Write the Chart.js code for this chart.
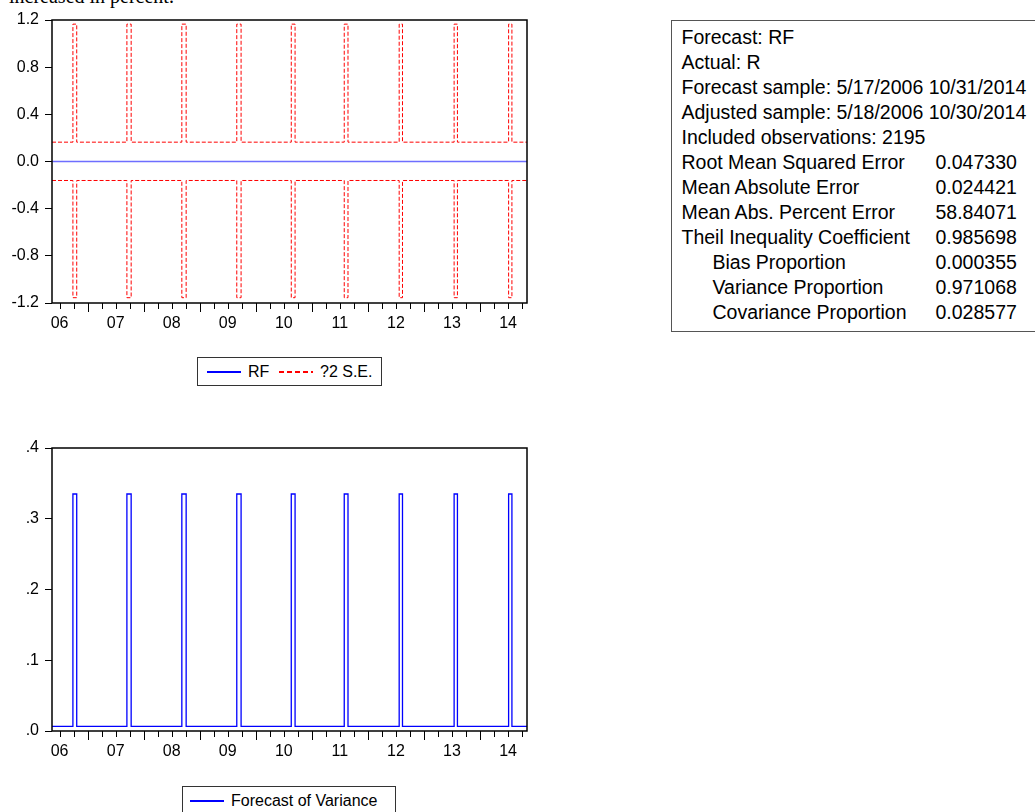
<!DOCTYPE html>
<html>
<head>
<meta charset="utf-8">
<script src="https://cdn.jsdelivr.net/npm/chart.js@4.4.1/dist/chart.umd.min.js"></script>
<style>
  html, body { margin: 0; padding: 0; background: #fff; overflow: hidden; }
  body { width: 1035px; height: 812px; position: relative; font-family: 'Liberation Sans', Arial, sans-serif; color: #000; }
  canvas { position: absolute; left: 0; }
  #topChart { top: 0; }
  #varChart { top: 428px; }
  #caption { position: absolute; left: 9px; top: -14px; font-family: 'Liberation Serif', 'Times New Roman', serif; font-size: 20px; line-height: 20px; white-space: nowrap; }
  .legend { position: absolute; height: 29px; box-sizing: border-box; border: 1px solid #333; font-size: 16px; }
  .legend span { position: absolute; top: 0; line-height: 27px; white-space: nowrap; }
  .legend i { position: absolute; top: 13px; width: 34px; height: 1.5px; }
  #stats { position: absolute; left: 671px; top: 20px; width: 400px; height: 312px; box-sizing: border-box; border: 1.5px solid #555; padding: 4px 0 0 9.5px; font-size: 19.5px; }
  #stats div { position: relative; height: 25px; line-height: 25px; white-space: nowrap; }
  #stats div.indent { padding-left: 31px; }
  #stats b { font-weight: normal; position: absolute; left: 254px; top: 0; }
</style>
</head>
<body>
<div id="caption">increased in percent.</div>
<canvas id="topChart" width="540" height="340"></canvas>
<div class="legend" style="left:197px; top:357px; width:185px;">
  <i style="left:9px; background:rgb(0,0,255);"></i><span style="left:50px;">RF</span>
  <i style="left:81px; background:repeating-linear-gradient(90deg, rgb(255,0,0) 0 5px, transparent 5px 8px);"></i><span style="left:122px;">?2 S.E.</span>
</div>
<div id="stats"></div>
<canvas id="varChart" width="540" height="340"></canvas>
<div class="legend" style="left:182px; top:786px; width:214px;">
  <i style="left:7px; background:rgb(0,0,255);"></i><span style="left:48px;">Forecast of Variance</span>
</div>
<script>
// sample range in decimal years (5/17/2006 - 10/31/2014)
const xMin = 2006.365;
const xMax = 2014.838;

const yearLabels = ['06', '07', '08', '09', '10', '11', '12', '13', '14'];
const yearLabelAt = [2006.5, 2007.5, 2008.5, 2009.5, 2010.5, 2011.5, 2012.5, 2013.5, 2014.5];

// where the forecast variance jumps up and back down (decimal years)
const spikeStart = [2006.738, 2007.701, 2008.681, 2009.661, 2010.633, 2011.578, 2012.558, 2013.538, 2014.510];
const spikeEnd = [2006.806, 2007.777, 2008.758, 2009.738, 2010.701, 2011.645, 2012.617, 2013.597, 2014.569];

// levels
const seUpperLevels = [0.164, 1.165];     // [normal, spike]
const seLowerLevels = [-0.161, -1.155];
const varLevels = [0.0066, 0.335];

const rfDates = [xMin, xMax];
const rfValues = [0, 0];

const topYTicks = [-1.2, -0.8, -0.4, 0, 0.4, 0.8, 1.2];
const topYLabels = ['-1.2', '-0.8', '-0.4', '0.0', '0.4', '0.8', '1.2'];
const varYTicks = [0, 0.1, 0.2, 0.3, 0.4];
const varYLabels = ['.0', '.1', '.2', '.3', '.4'];

const statLabels = ['Forecast: RF', 'Actual: R', 'Forecast sample: 5/17/2006 10/31/2014',
  'Adjusted sample: 5/18/2006 10/30/2014', 'Included observations: 2195',
  'Root Mean Squared Error', 'Mean Absolute Error', 'Mean Abs. Percent Error',
  'Theil Inequality Coefficient', 'Bias Proportion', 'Variance Proportion', 'Covariance Proportion'];
const statValues = ['', '', '', '', '', '0.047330', '0.024421', '58.84071', '0.985698', '0.000355', '0.971068', '0.028577'];
const statIndent = [0, 0, 0, 0, 0, 0, 0, 0, 0, 1, 1, 1];

// stats box
let statsBox = document.getElementById('stats');
for (let i = 0; i < statLabels.length; i++) {
    let row = document.createElement('div');
    if (statIndent[i]) row.className = 'indent';
    row.textContent = statLabels[i];
    if (statValues[i]) {
        let v = document.createElement('b');
        v.textContent = statValues[i];
        row.appendChild(v);
    }
    statsBox.appendChild(row);
}

function stepSeries(levels) {
    const pts = [{ x: xMin, y: levels[0] }];
    for (let i = 0; i < spikeStart.length; i++) {
        pts.push({ x: spikeStart[i], y: levels[0] }, { x: spikeStart[i], y: levels[1] },
                 { x: spikeEnd[i], y: levels[1] }, { x: spikeEnd[i], y: levels[0] });
    }
    pts.push({ x: xMax, y: levels[0] });
    return pts;
}

// quarter tick marks under the axis + the box round the plot
const framePlugin = {
    id: 'frame',
    afterDraw(chart) {
        const ctx = chart.ctx, a = chart.chartArea, x = chart.scales.x;
        ctx.save();
        ctx.strokeStyle = '#000';
        ctx.lineWidth = 1;
        for (let q = Math.ceil(xMin * 4) / 4; q <= xMax; q += 0.25) {
            const px = Math.round(x.getPixelForValue(q)) + 0.5;
            const len = Number.isInteger(q) ? 9 : 6;
            ctx.beginPath();
            ctx.moveTo(px, a.bottom);
            ctx.lineTo(px, a.bottom + len);
            ctx.stroke();
        }
        ctx.lineWidth = 1.5;
        ctx.strokeRect(a.left, a.top, a.right - a.left, a.bottom - a.top);
        ctx.restore();
    }
};

Chart.defaults.font.family = "'Liberation Sans', Arial, sans-serif";
Chart.defaults.font.size = 16;
Chart.defaults.color = '#000';

function makeOptions(yTicks, yLabels) {
    return {
        responsive: false,
        animation: false,
        devicePixelRatio: 1,
        layout: { padding: { top: 20, right: 13, left: 0, bottom: 0 } },
        elements: { point: { radius: 0 }, line: { tension: 0 } },
        plugins: { legend: { display: false }, tooltip: { enabled: false } },
        scales: {
            x: {
                type: 'linear', min: xMin, max: xMax,
                afterFit: s => { s.height = 37; },
                afterBuildTicks: s => { s.ticks = yearLabelAt.map(v => ({ value: v })); },
                ticks: { callback: (v, i) => yearLabels[i], padding: 11, maxRotation: 0, autoSkip: false },
                grid: { display: false, drawTicks: false },
                border: { display: false }
            },
            y: {
                min: yTicks[0], max: yTicks[yTicks.length - 1],
                afterFit: s => { s.width = 52; },
                afterBuildTicks: s => { s.ticks = yTicks.map(v => ({ value: v })); },
                ticks: { callback: (v, i) => yLabels[i], padding: 6, autoSkip: false },
                grid: { drawOnChartArea: false, drawTicks: true, tickLength: 7, tickColor: '#000', lineWidth: 1 },
                border: { display: false }
            }
        }
    };
}

new Chart(document.getElementById('topChart'), {
    type: 'line',
    data: {
        datasets: [{
            label: 'RF',
            data: rfDates.map((d, i) => ({ x: d, y: rfValues[i] })),
            borderColor: 'rgb(110, 110, 255)',
            borderWidth: 1.5
        }, {
            label: '?2 S.E.',
            data: stepSeries(seUpperLevels),
            borderColor: 'rgb(255, 0, 0)',
            borderWidth: 1,
            borderDash: [4, 2]
        }, {
            label: '?2 S.E. lower',
            data: stepSeries(seLowerLevels),
            borderColor: 'rgb(255, 0, 0)',
            borderWidth: 1,
            borderDash: [4, 2]
        }]
    },
    options: makeOptions(topYTicks, topYLabels),
    plugins: [framePlugin]
});

new Chart(document.getElementById('varChart'), {
    type: 'line',
    data: {
        datasets: [{
            label: 'Forecast of Variance',
            data: stepSeries(varLevels),
            borderColor: 'rgb(0, 0, 255)',
            borderWidth: 1.3
        }]
    },
    options: makeOptions(varYTicks, varYLabels),
    plugins: [framePlugin]
});
</script>
</body>
</html>
